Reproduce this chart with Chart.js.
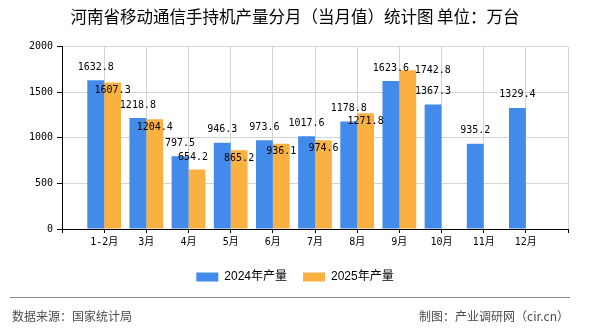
<!DOCTYPE html>
<html>
<head>
<meta charset="utf-8">
<script src="https://cdn.jsdelivr.net/npm/chart.js@4.4.1/dist/chart.umd.min.js"></script>
<style>
  html, body { margin: 0; padding: 0; background: #fff; }
  #wrap { position: relative; width: 590px; height: 330px; overflow: hidden; }
  #chart { position: absolute; left: 0; top: 0; }
  .rule { position: absolute; left: 10px; top: 297px; width: 560px; border-top: 1px solid #8a8a8a; }
  .note { position: absolute; top: 308px; font: 12px 'Noto Sans CJK SC', sans-serif; color: #4d4d4d; line-height: 16px; }
</style>
</head>
<body>
<div id="wrap">
  <canvas id="chart" width="590" height="330"></canvas>
  <div class="rule"></div>
  <div class="note" style="left:12px">数据来源：国家统计局</div>
  <div class="note" style="right:21px">制图：产业调研网（cir.cn）</div>
</div>
<script>
'use strict';

// ─── Data ─────────────────────────────────────────────────────────────────────

const months   = ['1-2月', '3月', '4月', '5月', '6月', '7月', '8月', '9月', '10月', '11月', '12月'];
const prod2024 = [1632.8, 1218.8, 797.5, 946.3, 973.6, 1017.6, 1178.8, 1623.6, 1367.3, 935.2, 1329.4];
const prod2025 = [1607.3, 1204.4, 654.2, 865.2, 936.1, 974.6, 1271.8, 1742.8];
const yTicks   = [0, 500, 1000, 1500, 2000];

// empty slot at each end, the axis runs from one gridline past the first/last month
const pad = (arr) => [null, ...arr, ...Array(months.length - arr.length).fill(null), null];
const labels = ['', ...months, ''];

// ─── Value labels ─────────────────────────────────────────────────────────────

const labelBase  = [[0, -13], [0, 8]];           // 2024 above the bar, 2025 inside the top
const labelNudge = { '4月': [-4, -12], '9月': [25, 0] };  // 2025 labels that moved

const valueLabels = {
  id: 'valueLabels',
  afterDatasetsDraw(chart) {
    const ctx = chart.ctx;
    ctx.save();
    ctx.font = '10px "DejaVu Sans Mono", monospace';
    ctx.fillStyle = '#000';
    ctx.textAlign = 'center';
    ctx.textBaseline = 'middle';
    chart.data.datasets.forEach((ds, di) => {
      chart.getDatasetMeta(di).data.forEach((bar, i) => {
        const v = ds.data[i];
        if (v == null) return;
        const off = (di === 1 && labelNudge[labels[i]]) || labelBase[di];
        ctx.fillText(v.toFixed(1), bar.x + off[0], bar.y + off[1]);
      });
    });
    ctx.restore();
  },
};

// title and legend are centred on the whole canvas, not on the padded box
const fullSpan = {
  id: 'fullSpan',
  afterLayout(chart) {
    [chart.titleBlock, chart.legend].forEach((box) => {
      box.left = 0;
      box.right = chart.width;
    });
  },
};

// ─── Chart ────────────────────────────────────────────────────────────────────

new Chart(document.getElementById('chart'), {
  type: 'bar',
  data: {
    labels,
    datasets: [
      { label: '2024年产量', data: pad(prod2024), backgroundColor: '#428BEB' },
      { label: '2025年产量', data: pad(prod2025), backgroundColor: '#FBB141' },
    ],
  },
  options: {
    responsive: false,
    animation: false,
    categoryPercentage: 0.8,
    barPercentage: 1.0,
    layout: { padding: { left: 0, right: 22, top: 0, bottom: 37 } },
    plugins: {
      title: {
        display: true,
        text: '河南省移动通信手持机产量分月（当月值）统计图 单位：万台',
        color: '#000',
        font: { family: "'Noto Sans CJK SC', sans-serif", size: 16.5, weight: 'normal' },
        padding: { top: 7, bottom: 20 },
      },
      legend: {
        position: 'bottom',
        labels: {
          boxWidth: 22,
          boxHeight: 9,
          padding: 16,
          color: '#000',
          font: { family: "'Liberation Sans', 'Noto Sans CJK SC', sans-serif", size: 12 },
        },
      },
      tooltip: { enabled: false },
    },
    scales: {
      x: {
        offset: false,
        grid: { offset: false, color: '#d4d4d4', tickColor: '#000', tickLength: 4 },
        border: { color: '#000' },
        ticks: {
          color: '#000',
          padding: 3,
          maxRotation: 0,
          autoSkip: false,
          font: { family: "'DejaVu Sans Mono', 'Noto Sans CJK SC', monospace", size: 10 },
        },
        afterFit: (scale) => { scale.height = 26; },
      },
      y: {
        min: yTicks[0],
        max: yTicks[yTicks.length - 1],
        afterBuildTicks: (scale) => { scale.ticks = yTicks.map((v) => ({ value: v })); },
        grid: { color: '#d4d4d4', tickColor: '#000', tickLength: 5 },
        border: { color: '#000' },
        ticks: {
          color: '#000',
          padding: 4,
          font: { family: "'DejaVu Sans Mono', monospace", size: 10 },
          callback: (v) => String(v),
        },
        afterFit: (scale) => { scale.width = 62; },
      },
    },
  },
  plugins: [valueLabels, fullSpan],
});
</script>
</body>
</html>
